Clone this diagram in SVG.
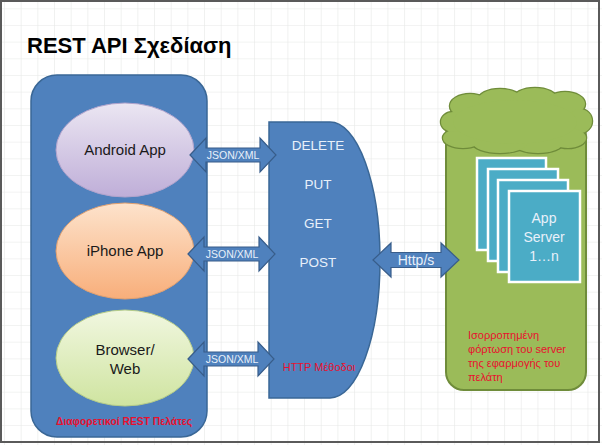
<svg xmlns="http://www.w3.org/2000/svg" width="602" height="445" viewBox="0 0 602 445">
<defs>
<pattern id="grid" x="4" y="8.3" width="16.67" height="16.67" patternUnits="userSpaceOnUse">
<path d="M0,0 V16.67 M0,0 H16.67" fill="none" stroke="#e6e8e6" stroke-width="1.2"/>
</pattern>
<linearGradient id="gPurple" x1="0" y1="0" x2="0" y2="1">
<stop offset="0" stop-color="#ebe6f2"/><stop offset="1" stop-color="#bfaed8"/>
</linearGradient>
<linearGradient id="gOrange" x1="0" y1="0" x2="0" y2="1">
<stop offset="0" stop-color="#fde3cc"/><stop offset="1" stop-color="#f8ae7a"/>
</linearGradient>
<linearGradient id="gGreen" x1="0" y1="0" x2="0" y2="1">
<stop offset="0" stop-color="#f1f7e0"/><stop offset="1" stop-color="#cfe4a0"/>
</linearGradient>
<style>
.blue{fill:#4f81bd;stroke:#3a6796;stroke-width:1.5}
.arrow{fill:#4f81bd;stroke:#385d8a;stroke-width:1.2}
.green{fill:#9bbb59;stroke:#6f8c3a;stroke-width:2}
.server{fill:#4bacc6;stroke:#ffffff;stroke-width:2.5}
.t{font-family:"Liberation Sans",Arial,sans-serif}
.dark{fill:#1a1a1a;font-size:15px;text-anchor:middle}
.light{fill:#e8f0fa;text-anchor:middle}
.red{fill:#e8102e}
.ell{stroke-width:1}
</style>
</defs>
<rect x="0" y="0" width="602" height="445" fill="#ffffff"/>
<rect x="0" y="0" width="602" height="445" fill="url(#grid)"/>
<rect x="1" y="1" width="598" height="441" fill="none" stroke="#5a5a5a" stroke-width="2"/>

<text class="t" x="27" y="53" font-size="22" font-weight="bold" fill="#000000">REST API Σχεδίαση</text>

<g id="clients">
<rect class="blue" x="31" y="75" width="176" height="362" rx="26"/>
<text class="t red" x="124" y="425" font-size="10" font-weight="bold" text-anchor="middle" textLength="136" lengthAdjust="spacingAndGlyphs">Διαφορετικοί REST Πελάτες</text>
</g>

<g id="android">
<ellipse class="ell" cx="125" cy="150" rx="69" ry="47" fill="url(#gPurple)" stroke="#b0a3cc"/>
<text class="t dark" x="125" y="155">Android App</text>
</g>
<g id="iphone">
<ellipse class="ell" cx="125" cy="251" rx="69" ry="48" fill="url(#gOrange)" stroke="#e0a070"/>
<text class="t dark" x="125" y="256">iPhone App</text>
</g>
<g id="browser">
<ellipse class="ell" cx="125" cy="358" rx="69" ry="48" fill="url(#gGreen)" stroke="#b5cc88"/>
<text class="t dark" x="125" y="355">Browser/</text>
<text class="t dark" x="125" y="374">Web</text>
</g>

<g id="http-methods">
<path class="blue" d="M269,122 H330 A50,138 0 0 1 330,398 H269 Z"/>
<text class="t light" x="318" y="150" font-size="13.5">DELETE</text>
<text class="t light" x="318" y="189" font-size="13.5">PUT</text>
<text class="t light" x="318" y="228" font-size="13.5">GET</text>
<text class="t light" x="318" y="267" font-size="13.5">POST</text>
<text class="t red" x="319" y="371" font-size="11" text-anchor="middle">HTTP Μέθοδοι</text>
</g>

<g id="app-servers">
<rect class="green" x="446" y="118" width="140" height="272" rx="18"/>
<g id="cloud">
<g fill="#9bbb59" stroke="#6f8c3a" stroke-width="2.5">
<ellipse cx="470" cy="106" rx="20" ry="12"/>
<ellipse cx="500" cy="100" rx="22" ry="11"/>
<ellipse cx="535" cy="99" rx="22" ry="11"/>
<ellipse cx="565" cy="104" rx="20" ry="12"/>
<ellipse cx="580" cy="121" rx="12" ry="12"/>
<ellipse cx="568" cy="138" rx="18" ry="10"/>
<ellipse cx="538" cy="143" rx="25" ry="10"/>
<ellipse cx="500" cy="143" rx="27" ry="10"/>
<ellipse cx="463" cy="138" rx="20" ry="10"/>
<ellipse cx="453" cy="122" rx="12" ry="10"/>
</g>
<g fill="#9bbb59">
<ellipse cx="470" cy="106" rx="20" ry="12"/>
<ellipse cx="500" cy="100" rx="22" ry="11"/>
<ellipse cx="535" cy="99" rx="22" ry="11"/>
<ellipse cx="565" cy="104" rx="20" ry="12"/>
<ellipse cx="580" cy="121" rx="12" ry="12"/>
<ellipse cx="568" cy="138" rx="18" ry="10"/>
<ellipse cx="538" cy="143" rx="25" ry="10"/>
<ellipse cx="500" cy="143" rx="27" ry="10"/>
<ellipse cx="463" cy="138" rx="20" ry="10"/>
<ellipse cx="453" cy="122" rx="12" ry="10"/>
<ellipse cx="515" cy="122" rx="62" ry="22"/>
</g>
</g>
<rect class="server" x="477" y="158" width="69" height="92"/>
<rect class="server" x="488" y="169" width="70" height="92"/>
<rect class="server" x="498" y="180" width="70" height="92"/>
<rect class="server" x="509" y="191" width="71" height="91"/>
<text class="t light" x="544" y="223" font-size="14">App</text>
<text class="t light" x="544" y="242" font-size="14">Server</text>
<text class="t light" x="544" y="261" font-size="14">1…n</text>
<text class="t red" x="468" y="339" font-size="11">Ισορροπημένη</text>
<text class="t red" x="468" y="353" font-size="11">φόρτωση του server</text>
<text class="t red" x="468" y="367" font-size="11">της εφαρμογής του</text>
<text class="t red" x="468" y="381" font-size="11">πελάτη</text>
</g>

<g id="connectors">
<path class="arrow" d="M190,155 L206,138 V148 H260 V138 L276,155 L260,172 V162 H206 V172 Z"/>
<text class="t light" x="233" y="159" font-size="10.5">JSON/XML</text>
<path class="arrow" d="M188,254 L204,237 V247 H259 V237 L275,254 L259,271 V261 H204 V271 Z"/>
<text class="t light" x="232" y="258" font-size="10.5">JSON/XML</text>
<path class="arrow" d="M188,359 L204,342 V352 H258 V342 L274,359 L258,376 V366 H204 V376 Z"/>
<text class="t light" x="232" y="363" font-size="10.5">JSON/XML</text>
<path class="arrow" d="M373,260 L391,243 V252.5 H441 V243 L459,260 L441,277 V267.5 H391 V277 Z"/>
<text class="t light" x="416" y="265" font-size="14">Http/s</text>
</g>
</svg>
